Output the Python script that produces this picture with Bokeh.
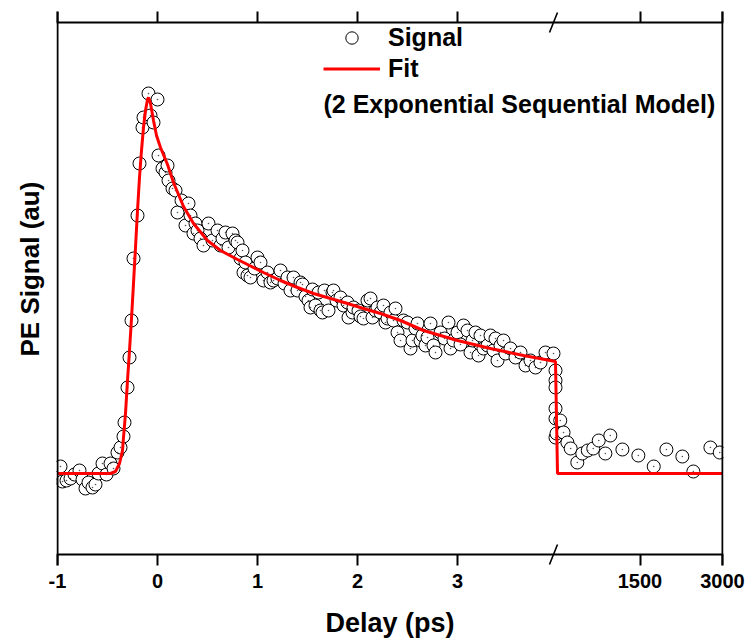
import numpy as np
from bokeh.plotting import figure
from bokeh.models import (Range1d, FixedTicker, LinearAxis, Legend, LegendItem,
                          Label, Arrow, Span, Title, CustomJSTickFormatter)
from bokeh.embed import file_html
from bokeh.resources import INLINE

# ---------------- data ----------------
# short delay scan (ps)
delay_ps = [-0.97, -0.95, -0.91, -0.87, -0.83, -0.78, -0.75, -0.72, -0.69, -0.65,
            -0.62, -0.59, -0.55, -0.51, -0.47, -0.44, -0.40, -0.37, -0.34, -0.33,
            -0.30, -0.28, -0.26, -0.24, -0.20, -0.18, -0.15, -0.14, -0.09, -0.07,
            -0.04, 0.00, 0.01, 0.05, 0.08, 0.10, 0.11, 0.15, 0.18, 0.20,
            0.24, 0.28, 0.31, 0.33, 0.36, 0.38, 0.40, 0.43, 0.46, 0.51,
            0.55, 0.60, 0.63, 0.65, 0.68, 0.71, 0.75, 0.78, 0.80, 0.83,
            0.85, 0.86, 0.88, 0.90, 0.93, 0.97, 1.00, 1.03, 1.06, 1.10,
            1.13, 1.16, 1.20, 1.23, 1.27, 1.30, 1.33, 1.36, 1.40, 1.43,
            1.45, 1.48, 1.51, 1.53, 1.55, 1.58, 1.61, 1.63, 1.65, 1.67,
            1.71, 1.75, 1.76, 1.79, 1.83, 1.86, 1.90, 1.91, 1.95, 1.96,
            2.01, 2.03, 2.06, 2.10, 2.13, 2.15, 2.18, 2.20, 2.23, 2.26,
            2.28, 2.30, 2.33, 2.36, 2.38, 2.40, 2.43, 2.46, 2.50, 2.53,
            2.55, 2.58, 2.60, 2.63, 2.65, 2.68, 2.70, 2.73, 2.76, 2.78,
            2.83, 2.87, 2.91, 2.93, 2.96, 3.00, 3.03, 3.06, 3.10, 3.13,
            3.15, 3.18, 3.21, 3.23, 3.26, 3.30, 3.33, 3.36, 3.38, 3.40,
            3.43, 3.46, 3.48, 3.53, 3.58, 3.63, 3.68, 3.73, 3.78, 3.83,
            3.88, 3.96, 3.98, 3.98, 3.98, 3.98, 3.98, 3.98, 3.99]
signal = [1.75, -2.0, -1.75, -1.25, -0.25, 0.75, -1.5, -3.75, -2.25, -3.5,
          -2.75, 0.0, 2.5, -0.25, 2.5, 1.25, 5.25, 6.5, 9.25, 12.75,
          21.5, 29.0, 38.25, 53.75, 64.5, 77.5, 86.5, 89.0, 95.0, 89.5,
          87.75, 93.5, 79.5, 76.25, 75.25, 77.0, 73.25, 71.25, 70.75, 65.25,
          68.25, 62.0, 67.5, 64.5, 60.0, 62.5, 60.75, 58.75, 57.0, 62.5,
          58.25, 60.75, 57.0, 58.75, 60.25, 56.5, 60.0, 58.25, 57.75, 53.75,
          55.75, 50.25, 52.75, 49.5, 49.0, 51.25, 54.0, 52.75, 48.25, 50.25,
          47.75, 48.25, 48.75, 50.75, 47.5, 49.0, 45.75, 49.0, 45.75, 47.75,
          47.25, 44.25, 43.25, 41.5, 46.0, 42.0, 45.25, 40.75, 40.25, 45.75,
          40.75, 45.25, 45.75, 43.25, 44.0, 42.0, 42.75, 39.0, 40.25, 41.5,
          40.75, 39.25, 38.75, 43.25, 43.75, 39.0, 40.75, 41.5, 40.25, 42.0,
          37.75, 38.75, 40.25, 38.25, 41.25, 35.25, 33.25, 38.25, 37.75, 31.25,
          33.25, 36.25, 37.5, 33.25, 34.5, 32.0, 34.0, 37.5, 32.0, 30.25,
          35.25, 33.75, 37.75, 31.25, 33.25, 35.25, 32.25, 37.0, 35.75, 30.25,
          33.25, 35.25, 29.5, 34.5, 31.25, 32.0, 34.5, 30.75, 33.75, 28.25,
          32.0, 33.25, 30.0, 31.25, 29.0, 30.25, 27.0, 28.25, 26.5, 27.75,
          30.25, 30.0, 25.75, 23.25, 21.5, 16.25, 13.75, 9.0, 10.0]

# long delay points (ps), shown on the compressed segment after the break
delay_long_ps = [50, 110, 180, 240, 360, 450, 550, 650, 750, 870,
                 960, 1180, 1470, 1750, 1980, 2270, 2470, 2780, 2950]
signal_long = [13.25, 10.25, 7.75, 6.25, 2.75, 5.0, 5.75, 6.25, 8.25, 5.0,
               9.5, 6.0, 4.5, 1.75, 6.0, 4.25, 0.5, 6.5, 5.25]

# fit curve (2 exponential sequential model)
fit_delay_ps = [-1.00, -0.47, -0.42, -0.38, -0.35, -0.34, -0.32, -0.30, -0.28, -0.26,
                -0.24, -0.22, -0.20, -0.18, -0.16, -0.14, -0.12, -0.10, -0.09, -0.07,
                -0.04, -0.01, 0.03, 0.10, 0.16, 0.26, 0.36, 0.50, 0.63, 0.80,
                0.90, 1.06, 1.23, 1.40, 1.56, 1.73, 1.90, 2.06, 2.23, 2.43,
                2.66, 3.00, 3.33, 3.66, 3.98]
fit_signal = [0, 0, 0.5, 2.5, 5.75, 9, 15, 23.25, 30.75, 38.75,
              47.5, 56.5, 65.75, 74, 80.75, 86.5, 90.75, 93.5, 94, 92.5,
              88.25, 84.5, 81.5, 77.25, 72.75, 66.75, 62.5, 58.25, 55.75, 53.5,
              52.25, 50.25, 48.25, 46.5, 45, 43.75, 42.5, 41.25, 40, 38.25,
              35.75, 33.25, 31.25, 29.5, 28.0]
fit_long_ps = [0, 3000]
fit_long_signal = [0, 0]

short_ticks = [-1, 0, 1, 2, 3]
long_ticks = [1500, 3000]
tick_labels = ["-1", "0", "1", "2", "3", "1500", "3000"]

assert len(delay_ps) == len(signal)
assert len(fit_delay_ps) == len(fit_signal)

# ---------------- broken axis mapping ----------------
BREAK_AT = 4.0      # end of the linear ps segment
LONG_SPAN = 1.65    # width of the long-delay segment, in short-axis units
LONG_MAX = 3000.0


def disp_long(t):
    return BREAK_AT + np.asarray(t, dtype=float) * LONG_SPAN / LONG_MAX


x_sig = np.concatenate([np.asarray(delay_ps, float), disp_long(delay_long_ps)])
y_sig = list(signal) + list(signal_long)
x_fit = np.concatenate([np.asarray(fit_delay_ps, float), disp_long(fit_long_ps)])
y_fit = list(fit_signal) + list(fit_long_signal)

tick_pos = [float(t) for t in short_ticks] + [float(v) for v in disp_long(long_ticks)]

# axis box (where the axis lines are drawn)
AX_X0, AX_X1 = -1.0, float(disp_long(LONG_MAX))
AX_Y0, AX_Y1 = -20.25, 112.75
# frame is a little larger so that ticks / break marks outside the box show
X0, X1 = AX_X0 - 0.01, AX_X1 + 0.01
Y0, Y1 = -23.0, 115.5

FONT = "Liberation Sans"

p = figure(width=747, height=641, output_backend="svg", toolbar_location=None,
           x_range=Range1d(X0, X1), y_range=Range1d(Y0, Y1),
           min_border_left=56, min_border_right=24, min_border_top=11,
           min_border_bottom=76, background_fill_color="white",
           border_fill_color="white")
p.grid.visible = False
p.outline_line_color = None

fmt = CustomJSTickFormatter(args=dict(pos=tick_pos, labs=tick_labels), code="""
for (let i = 0; i < pos.length; i++) {
  if (Math.abs(tick - pos[i]) < 1e-6) return labs[i];
}
return '';
""")

xa = p.xaxis[0]
xa.ticker = FixedTicker(ticks=tick_pos)
xa.formatter = fmt
xa.axis_label = "Delay (ps)"
p.yaxis.visible = False

top = LinearAxis(ticker=FixedTicker(ticks=tick_pos),
                 formatter=CustomJSTickFormatter(code="return '';"))
p.add_layout(top, "above")

for ax in [xa, top]:
    ax.axis_line_color = None
    ax.major_tick_line_width = 2
    ax.major_tick_line_color = "black"
    ax.major_tick_out = 0
    ax.major_tick_in = 11
    ax.minor_tick_line_color = None
    ax.major_label_text_font = FONT
    ax.major_label_text_font_style = "bold"
    ax.major_label_text_font_size = "20px"
    ax.major_label_text_color = "black"
    ax.axis_label_text_font = FONT
    ax.axis_label_text_font_style = "bold"
    ax.axis_label_text_font_size = "27px"
    ax.axis_label_text_color = "black"
top.major_label_text_font_size = "1px"
top.major_label_standoff = 0
xa.major_label_standoff = 8
xa.axis_label_standoff = 17

sig_r = p.scatter(x_sig, y_sig, marker="circle", size=13,
                  line_color="black", line_width=1, fill_color="white")
dot_r = p.scatter(x_sig, y_sig, marker="circle", size=1.6,
                  line_color=None, fill_color="#555555")
fit_r = p.line(x_fit, y_fit, line_color="red", line_width=3)

# axis box lines
for loc, dim in ((AX_Y0, "width"), (AX_Y1, "width"),
                 (AX_X0, "height"), (AX_X1, "height")):
    p.add_layout(Span(location=loc, dimension=dim, line_color="black",
                      line_width=2))

# axis-break marks
for yc in (AX_Y0, AX_Y1):
    p.add_layout(Arrow(end=None, x_start=BREAK_AT - 0.08, y_start=yc - 2.5,
                       x_end=BREAK_AT, y_end=yc + 2.5,
                       line_color="black", line_width=1.6))

# y-axis title
p.add_layout(Title(text="PE Signal (au)", align="left", offset=209,
                   text_font=FONT, text_font_style="bold",
                   text_font_size="26px", text_color="black",
                   standoff=24), "left")

legend = Legend(items=[LegendItem(label="Signal", renderers=[sig_r]),
                       LegendItem(label="Fit", renderers=[fit_r])],
                location=(267, 481), glyph_width=57, glyph_height=31,
                label_height=31, label_standoff=8, spacing=0, padding=0,
                margin=0, border_line_color=None, background_fill_alpha=0,
                label_text_font=FONT, label_text_font_style="bold",
                label_text_font_size="25px", label_text_color="black")
p.add_layout(legend)

p.add_layout(Label(x=1.66, y=92.5, text="(2 Exponential Sequential Model)",
                   text_baseline="middle", text_align="left", text_font=FONT,
                   text_font_style="bold", text_font_size="25px",
                   text_color="black"))

open("out.html", "w").write(file_html(p, INLINE))
